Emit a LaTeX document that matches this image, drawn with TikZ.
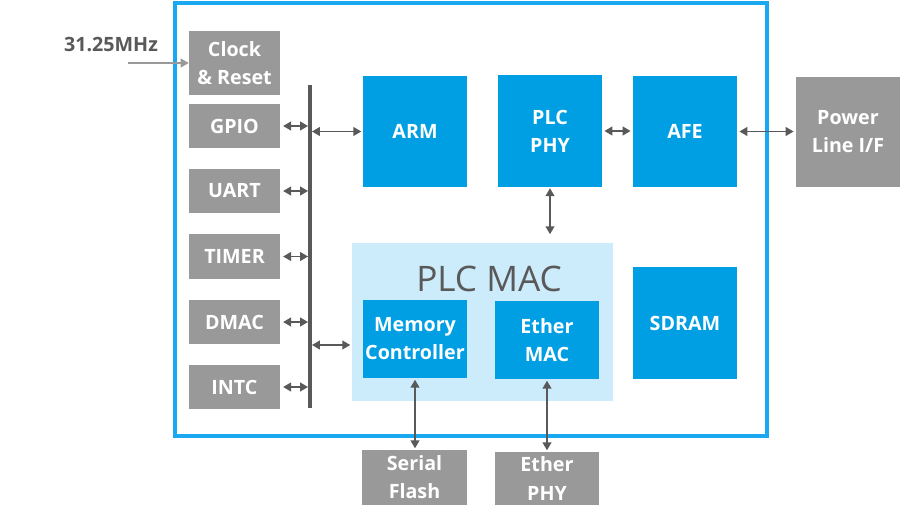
\documentclass[tikz,border=0pt]{standalone}
\usepackage{fontspec}
\setmainfont{Open Sans}
\usetikzlibrary{arrows.meta, calc}
\definecolor{plcblue}{HTML}{009FE3}
\definecolor{plcframe}{HTML}{1AA9F0}
\definecolor{plclight}{HTML}{CCEBFB}
\definecolor{plcgray}{HTML}{999999}
\definecolor{plcdark}{HTML}{595959}
\begin{document}
\begin{tikzpicture}[
  x=0.025cm, y=-0.025cm,
  >={Triangle[length=0.2cm, width=0.22cm]},
  font=\fontsize{14}{20}\selectfont\bfseries,
  blk/.style={fill=plcblue, text=white, inner sep=0pt, align=center,
    minimum width=2.6cm, minimum height=2.775cm},
  ext/.style={fill=plcgray, text=white, inner sep=0pt, align=center},
  per/.style={ext, minimum width=2.275cm, minimum height=1.1cm},
  arr/.style={<->, line width=1.2pt, plcdark}
]
\useasboundingbox[fill=white] (0,0) rectangle (900,520);
% chip outline
\draw[plcframe, line width=0.11cm] (175,3) rectangle (767,436);
% peripherals and bus
\node[ext, minimum width=2.275cm, minimum height=1.6cm] (clk) at (234.5,63) {Clock\\\& Reset};
\node[per] (gpio) at (234.5,126) {GPIO};
\node[per] (uart) at (234.5,191) {UART};
\node[per] (timer) at (234.5,256.5) {TIMER};
\node[per] (dmac) at (234.5,322) {DMAC};
\node[per] (intc) at (234.5,387) {INTC};
\coordinate (bustop) at (310,85);
\coordinate (busbot) at (310,408);
\draw[plcdark, line width=0.1cm] (bustop) -- (busbot);
% main blocks
\node[blk] (arm) at (415,131.5) {ARM};
\node[blk] (phy) at (550,131) {PLC\\PHY};
\node[blk] (afe) at (685,131.5) {AFE};
\node[ext, minimum width=2.6cm, minimum height=2.75cm] (pwr) at (848,132) {Power\\Line I/F};
\node[fill=plclight, minimum width=6.525cm, minimum height=3.95cm] (mac) at (482.5,322) {};
\node[font=\fontsize{25}{30}\selectfont, text=plcdark] (maclbl) at (489,279) {PLC MAC};
\node[blk, minimum height=1.95cm] (memc) at (415,339) {Memory\\Controller};
\node[blk, minimum height=1.95cm] (emac) at (547,340) {Ether\\MAC};
\node[blk, minimum height=2.8cm] (sdram) at (685,323) {SDRAM};
\node[ext, minimum width=2.625cm, minimum height=1.375cm] (flash) at (414.5,477.5) {Serial\\Flash};
\node[ext, minimum width=2.6cm, minimum height=1.325cm] (ephy) at (547,478.5) {Ether\\PHY};
% clock input
\node[text=plcdark] (freq) at (111,44) {31.25MHz};
\coordinate (clkin) at (128,63);
\draw[->, line width=1.2pt, plcgray] (clkin) -- (clk.west);
% connectors
\foreach \p in {gpio, uart, timer, dmac, intc}
  \draw[arr, shorten <=2pt, shorten >=1.4pt] (\p.east) -- (\p.east -| bustop);
\draw[arr, shorten <=1.4pt, shorten >=1pt] (arm.west -| bustop) -- (arm.west);
\coordinate (busmac) at (310,345);
\draw[arr, shorten <=1.4pt, shorten >=1pt] (busmac) -- (busmac -| mac.west);
\draw[arr, shorten <=1pt, shorten >=6pt] (phy.south) -- (phy.south |- mac.north);
\draw[arr, shorten <=1.5pt, shorten >=1.5pt] (phy.east) -- (phy.east -| afe.west);
\draw[arr, shorten <=1.5pt, shorten >=1.5pt] (afe.east) -- (afe.east -| pwr.west);
\draw[arr, shorten <=1pt, shorten >=1pt] (memc.south) -- (memc.south |- flash.north);
\draw[arr, shorten <=1pt, shorten >=1pt] (emac.south) -- (ephy.north);
\end{tikzpicture}
\end{document}
